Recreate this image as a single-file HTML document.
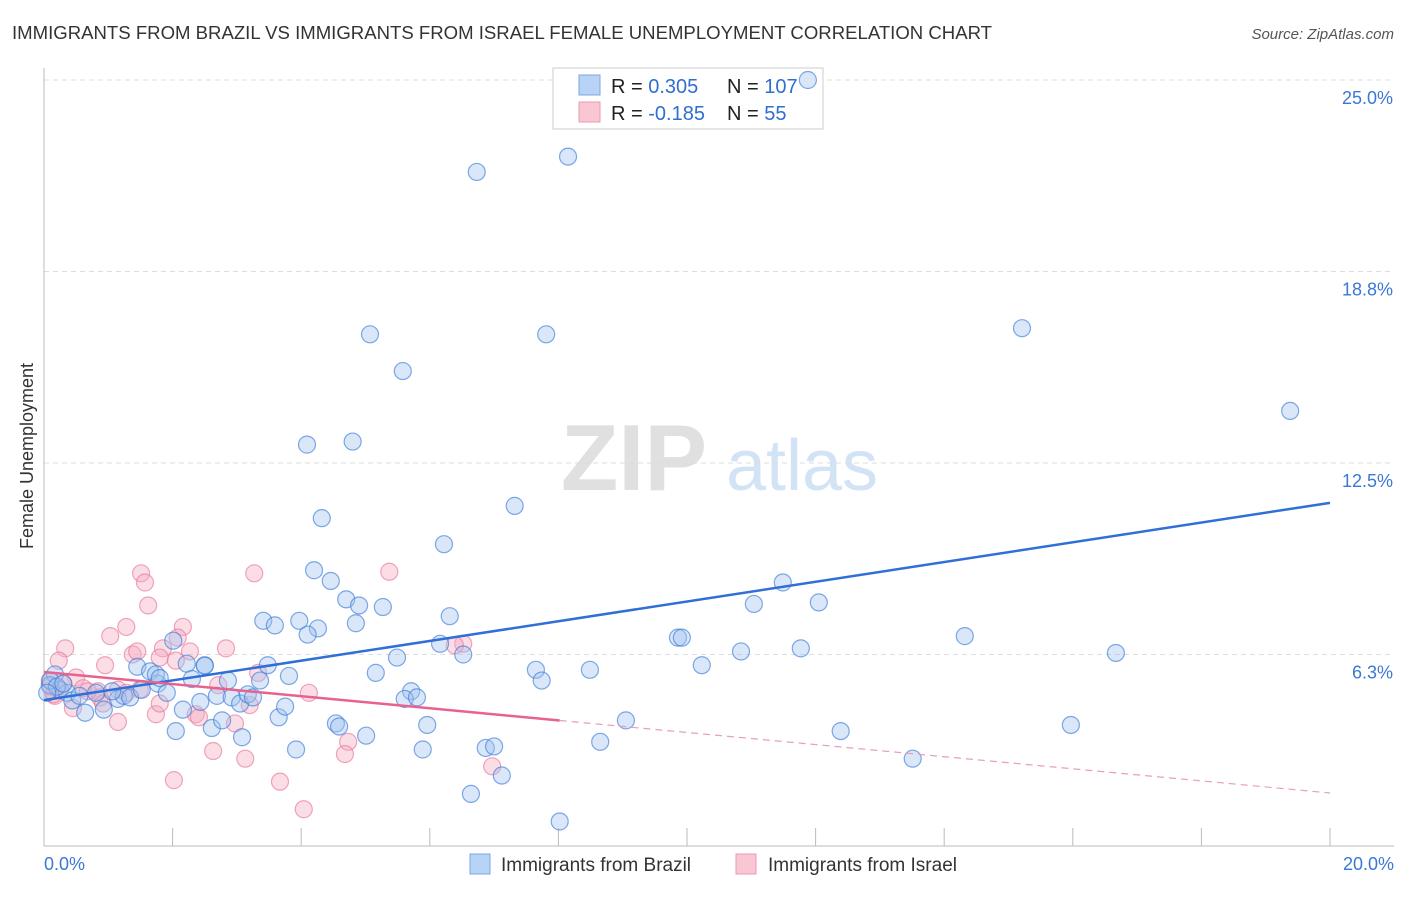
<!DOCTYPE html>
<html><head><meta charset="utf-8">
<style>
body{margin:0;background:#fff;font-family:"Liberation Sans",sans-serif;}
svg text{font-family:"Liberation Sans",sans-serif;}
</style></head>
<body>
<svg id="chart" width="1406" height="892" xmlns="http://www.w3.org/2000/svg">
<text x="12" y="39" font-size="18" fill="#333" textLength="980" lengthAdjust="spacingAndGlyphs">IMMIGRANTS FROM BRAZIL VS IMMIGRANTS FROM ISRAEL FEMALE UNEMPLOYMENT CORRELATION CHART</text>
<text x="1394" y="39" font-size="15" fill="#555" text-anchor="end" font-style="italic">Source: ZipAtlas.com</text>
<g>
<text x="634" y="490" font-size="94" fill="#e0e0e0" text-anchor="middle" font-family="Liberation Serif" font-weight="bold">ZIP</text>
<text x="802" y="490" font-size="72" fill="#d3e3f6" text-anchor="middle">atlas</text>
</g>
<text transform="translate(33,456) rotate(-90)" font-size="18" fill="#333" text-anchor="middle">Female Unemployment</text>
<g id="grid"></g>
<g id="axes"></g>
<g>
<rect x="553" y="68" width="270" height="61" fill="#fff" stroke="#ccc"/>
<rect x="579" y="75" width="21" height="20" fill="#b8d3f5" stroke="#7aa7e3"/>
<rect x="579" y="102" width="21" height="20" fill="#f9c6d4" stroke="#eb9ab0"/>
<text x="611" y="93" font-size="20" fill="#222">R = <tspan fill="#2f6fd0">0.305</tspan></text>
<text x="727" y="93" font-size="20" fill="#222">N = <tspan fill="#2f6fd0">107</tspan></text>
<text x="611" y="120" font-size="20" fill="#222">R = <tspan fill="#2f6fd0">-0.185</tspan></text>
<text x="727" y="120" font-size="20" fill="#222">N = <tspan fill="#2f6fd0">  55</tspan></text>
</g>
<g id="pts"></g>
<g id="trends"></g>
<g>
<rect x="470" y="854" width="20" height="20" fill="#b8d3f5" stroke="#7aa7e3"/>
<text x="501" y="871" font-size="19" fill="#333">Immigrants from Brazil</text>
<rect x="736" y="854" width="20" height="20" fill="#f9c6d4" stroke="#eb9ab0"/>
<text x="768" y="871" font-size="19" fill="#333">Immigrants from Israel</text>
</g>
</svg>
<script>
const yTicks=[25,18.75,12.5,6.25];
const yTickLabels=["25.0%","18.8%","12.5%","6.3%"];
const xTicks=[0,2,4,6,8,10,12,14,16,18,20];
const xTickLabels=["0.0%","20.0%"];
const brazilX=[11.88,6.73,8.15,5.07,7.81,5.58,15.21,19.38,4.09,4.80,7.32,4.32,6.22,4.20,4.46,4.70,4.90,5.27,6.31,3.97,3.41,3.59,4.26,4.85,4.10,11.49,11.04,12.05,9.86,9.92,14.32,6.16,6.52,5.49,10.84,11.77,16.67,10.23,8.49,7.65,7.74,5.16,3.48,3.81,5.71,5.61,5.80,3.65,3.75,4.54,4.59,5.01,5.96,9.05,12.39,15.97,8.65,6.87,7.0,3.92,5.89,7.12,13.51,6.64,8.02,0.17,0.25,0.36,0.09,0.44,0.64,0.93,0.81,1.15,1.24,1.34,1.52,1.45,1.65,1.77,1.91,2.05,2.16,2.22,2.30,2.50,2.5,2.43,2.69,2.61,2.77,2.86,2.92,3.05,3.08,3.17,3.25,3.36,2.01,1.74,1.06,1.80,0.1,0.2,0.05,0.3,0.55];
const brazilY=[25.0,22.0,22.5,16.7,16.7,15.5,16.9,14.2,13.1,13.2,11.1,10.7,9.85,9.0,8.65,8.05,7.85,7.8,7.5,7.35,7.35,7.2,7.1,7.27,6.9,8.6,7.9,7.95,6.8,6.8,6.85,6.6,6.25,6.15,6.35,6.45,6.3,5.9,5.75,5.75,5.4,5.65,5.9,5.55,5.05,4.8,4.85,4.2,4.55,4.0,3.9,3.6,3.95,4.1,3.75,3.95,3.4,3.2,3.25,3.15,3.15,2.3,2.85,1.7,0.8,5.6,5.1,5.0,5.25,4.75,4.35,4.45,5.0,4.8,4.9,4.85,5.1,5.85,5.7,5.3,5.0,3.75,4.45,5.95,5.45,5.9,5.88,4.7,4.9,3.85,4.1,5.4,4.85,4.65,3.55,4.95,4.85,5.4,6.7,5.6,5.05,5.48,5.4,5.2,5.0,5.3,4.9];
const israelX=[1.51,1.57,1.62,3.27,5.37,1.28,1.03,2.16,2.83,0.33,0.23,1.38,1.45,1.85,1.80,2.08,2.27,0.95,0.50,0.61,0.84,1.15,3.33,2.71,4.12,6.52,6.39,0.17,0.09,0.45,1.15,1.74,2.36,2.41,2.97,3.20,2.05,2.63,3.13,4.73,4.68,6.97,2.02,3.67,4.04,0.87,0.68,1.28,1.49,0.92,0.22,1.80,0.1,0.3,0.15];
const israelY=[8.9,8.6,7.85,8.9,8.95,7.15,6.85,7.15,6.45,6.45,6.05,6.25,6.35,6.45,6.15,6.8,6.35,5.9,5.5,5.15,5.05,5.1,5.65,5.25,5.0,6.6,6.55,4.9,5.4,4.5,4.05,4.3,4.3,4.2,4.0,4.6,6.05,3.1,2.85,3.4,3.0,2.6,2.15,2.1,1.2,4.85,5.05,5.0,5.1,4.65,5.1,4.65,5.2,5.3,4.95];
const brazilTrend=[4.76,11.2];
const israelTrend=[5.68,1.73];
const israelSolidEnd=8.02;

const X0=44,X1=1330,Y0=846,YTOP=80;
const xs=v=>X0+(v/20)*(X1-X0);
const ys=v=>Y0-(v/25)*(Y0-YTOP);
const NS="http://www.w3.org/2000/svg";
function mk(tag,attrs,parent){const e=document.createElementNS(NS,tag);for(const k in attrs)e.setAttribute(k,attrs[k]);parent.appendChild(e);return e;}
const grid=document.getElementById('grid'),axes=document.getElementById('axes'),pts=document.getElementById('pts'),tr=document.getElementById('trends');
yTicks.forEach((t,i)=>{
 const l=mk('line',{x1:X0,x2:1394,y1:ys(t),y2:ys(t),stroke:'#ddd','stroke-dasharray':'5,4'},grid);
 
 
 const tx=mk('text',{x:1393,y:ys(t)+24,'font-size':18,fill:'#3b78d6','text-anchor':'end'},axes);
 tx.textContent=yTickLabels[i];
 
 
});
const ax=mk('line',{x1:X0,x2:X0,y1:68,y2:Y0,stroke:'#bbb'},axes);


const bx=mk('line',{x1:X0,x2:1394,y1:Y0,y2:Y0,stroke:'#bbb'},axes);


xTicks.forEach(t=>{
 const l=mk('line',{x1:xs(t),x2:xs(t),y1:Y0-18,y2:Y0,stroke:'#bbb'},axes);
 
 
});
const xl0=mk('text',{x:44,y:870,'font-size':18,fill:'#3b78d6'},axes);xl0.textContent=xTickLabels[0];


const xl1=mk('text',{x:1394,y:870,'font-size':18,fill:'#3b78d6','text-anchor':'end'},axes);xl1.textContent=xTickLabels[1];


israelX.forEach((v,i)=>{
 const c=mk('circle',{cx:xs(v),cy:ys(israelY[i]),r:8.5,fill:'rgba(246,170,192,0.4)',stroke:'rgba(232,120,155,0.65)','stroke-width':1.2},pts);
 
 
});
brazilX.forEach((v,i)=>{
 const c=mk('circle',{cx:xs(v),cy:ys(brazilY[i]),r:8.5,fill:'rgba(160,196,240,0.4)',stroke:'rgba(60,125,215,0.65)','stroke-width':1.2},pts);
 
 
});
const bt=mk('line',{x1:xs(0),y1:ys(brazilTrend[0]),x2:xs(20),y2:ys(brazilTrend[1]),stroke:'#2f6fd6','stroke-width':2.5},tr);


const yAt=x=>israelTrend[0]+(israelTrend[1]-israelTrend[0])*x/20;
const it=mk('line',{x1:xs(0),y1:ys(israelTrend[0]),x2:xs(israelSolidEnd),y2:ys(yAt(israelSolidEnd)),stroke:'#e8628f','stroke-width':2.5},tr);


const id=mk('line',{x1:xs(israelSolidEnd),y1:ys(yAt(israelSolidEnd)),x2:xs(20),y2:ys(israelTrend[1]),stroke:'#e8a0b8','stroke-width':1.2,'stroke-dasharray':'7,5'},tr);


</script>
</body></html>
